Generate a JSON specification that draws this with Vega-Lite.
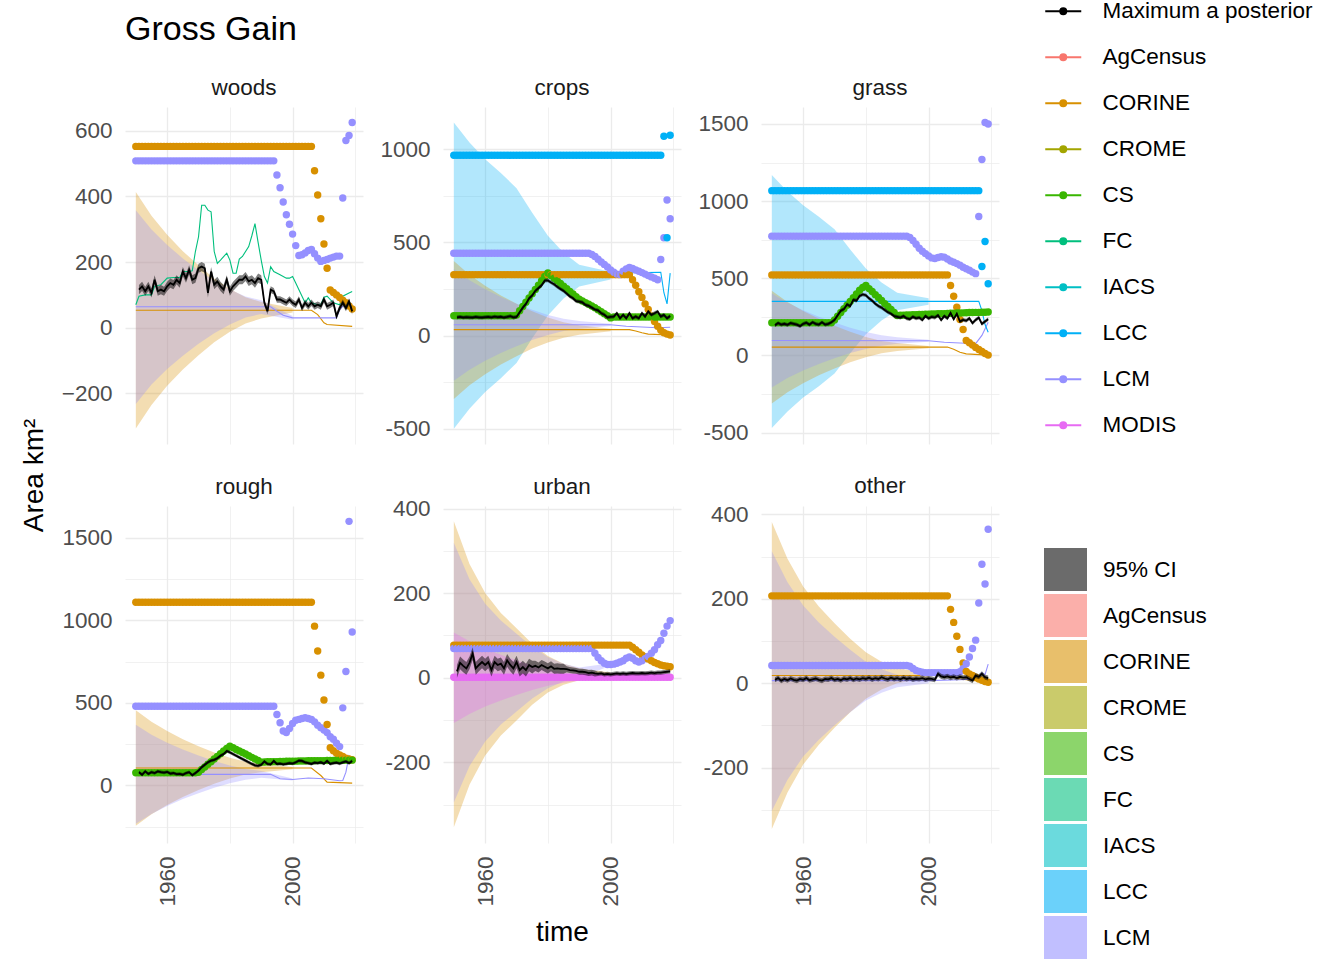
{
"$schema":"https://vega.github.io/schema/vega-lite/v6.json",
"padding":{"left":20,"top":0,"right":0,"bottom":0},
"background":"white",
"title":{"text":"Gross Gain","anchor":"start","frame":"group","offset":0,"dy":74,"baseline":"alphabetic","fontSize":34,"fontWeight":"normal","color":"black","font":"Liberation Sans"},
"config":{
"view":{"stroke":null},
"font":"Liberation Sans",
"title":{"fontSize":22.5,"fontWeight":"normal","color":"#1A1A1A","offset":8,"baseline":"alphabetic","frame":"group","font":"Liberation Sans"},
"axis":{"labelFontSize":22.5,"labelColor":"#4D4D4D","labelFont":"Liberation Sans","domain":false,"ticks":false,"tickSize":0,"labelPadding":13,"gridColor":"#EBEBEB","labelOverlap":false,"labelFlush":false,"labelBound":false,"titleFontSize":28,"titleFontWeight":"normal","titleColor":"black","titleFont":"Liberation Sans"}
},
"datasets":{
"b":[
{"p":"woods","s":"CORINE","t":1950,"l":-307,"h":413},{"p":"woods","s":"CORINE","t":1955,"l":-235,"h":341},{"p":"woods","s":"CORINE","t":1960,"l":-177,"h":283},{"p":"woods","s":"CORINE","t":1965,"l":-127,"h":233},{"p":"woods","s":"CORINE","t":1970,"l":-84,"h":190},{"p":"woods","s":"CORINE","t":1975,"l":-44,"h":150},{"p":"woods","s":"CORINE","t":1980,"l":-12,"h":118},{"p":"woods","s":"CORINE","t":1985,"l":13,"h":93},{"p":"woods","s":"CORINE","t":1990,"l":28,"h":78},{"p":"woods","s":"CORINE","t":2000,"l":46,"h":60},
{"p":"woods","s":"LCM","t":1950,"l":-232,"h":358},{"p":"woods","s":"LCM","t":1955,"l":-173,"h":299},{"p":"woods","s":"LCM","t":1960,"l":-126,"h":252},{"p":"woods","s":"LCM","t":1965,"l":-85,"h":211},{"p":"woods","s":"LCM","t":1970,"l":-49,"h":175},{"p":"woods","s":"LCM","t":1975,"l":-17,"h":143},{"p":"woods","s":"LCM","t":1980,"l":10,"h":116},{"p":"woods","s":"LCM","t":1985,"l":31,"h":95},{"p":"woods","s":"LCM","t":1990,"l":42,"h":84},{"p":"woods","s":"LCM","t":2000,"l":24,"h":36},
{"p":"crops","s":"LCC","t":1950,"l":-500,"h":1144},{"p":"crops","s":"LCC","t":1955,"l":-393,"h":1037},{"p":"crops","s":"LCC","t":1960,"l":-303,"h":947},{"p":"crops","s":"LCC","t":1965,"l":-229,"h":873},{"p":"crops","s":"LCC","t":1970,"l":-147,"h":791},{"p":"crops","s":"LCC","t":1975,"l":-15,"h":659},{"p":"crops","s":"LCC","t":1980,"l":108,"h":536},{"p":"crops","s":"LCC","t":1985,"l":199,"h":445},{"p":"crops","s":"LCC","t":1990,"l":264,"h":380},{"p":"crops","s":"LCC","t":2000,"l":301,"h":343},
{"p":"crops","s":"CORINE","t":1950,"l":-340,"h":400},{"p":"crops","s":"CORINE","t":1955,"l":-266,"h":326},{"p":"crops","s":"CORINE","t":1960,"l":-207,"h":267},{"p":"crops","s":"CORINE","t":1965,"l":-155,"h":215},{"p":"crops","s":"CORINE","t":1970,"l":-111,"h":171},{"p":"crops","s":"CORINE","t":1975,"l":-70,"h":130},{"p":"crops","s":"CORINE","t":1980,"l":-37,"h":97},{"p":"crops","s":"CORINE","t":1985,"l":-11,"h":71},{"p":"crops","s":"CORINE","t":1990,"l":4,"h":56},{"p":"crops","s":"CORINE","t":2000,"l":23,"h":37},
{"p":"crops","s":"LCM","t":1950,"l":-243,"h":357},{"p":"crops","s":"LCM","t":1955,"l":-183,"h":297},{"p":"crops","s":"LCM","t":1960,"l":-135,"h":249},{"p":"crops","s":"LCM","t":1965,"l":-93,"h":207},{"p":"crops","s":"LCM","t":1970,"l":-57,"h":171},{"p":"crops","s":"LCM","t":1975,"l":-24,"h":138},{"p":"crops","s":"LCM","t":1980,"l":3,"h":111},{"p":"crops","s":"LCM","t":1985,"l":24,"h":90},{"p":"crops","s":"LCM","t":1990,"l":36,"h":78},{"p":"crops","s":"LCM","t":2000,"l":51,"h":63},
{"p":"grass","s":"LCC","t":1950,"l":-470,"h":1170},{"p":"grass","s":"LCC","t":1955,"l":-363,"h":1063},{"p":"grass","s":"LCC","t":1960,"l":-273,"h":973},{"p":"grass","s":"LCC","t":1965,"l":-199,"h":899},{"p":"grass","s":"LCC","t":1970,"l":-117,"h":817},{"p":"grass","s":"LCC","t":1975,"l":14,"h":686},{"p":"grass","s":"LCC","t":1980,"l":137,"h":563},{"p":"grass","s":"LCC","t":1985,"l":227,"h":473},{"p":"grass","s":"LCC","t":1990,"l":293,"h":407},{"p":"grass","s":"LCC","t":2000,"l":329,"h":371},
{"p":"grass","s":"CORINE","t":1950,"l":-311,"h":419},{"p":"grass","s":"CORINE","t":1955,"l":-238,"h":346},{"p":"grass","s":"CORINE","t":1960,"l":-180,"h":288},{"p":"grass","s":"CORINE","t":1965,"l":-129,"h":237},{"p":"grass","s":"CORINE","t":1970,"l":-85,"h":193},{"p":"grass","s":"CORINE","t":1975,"l":-45,"h":153},{"p":"grass","s":"CORINE","t":1980,"l":-12,"h":120},{"p":"grass","s":"CORINE","t":1985,"l":14,"h":94},{"p":"grass","s":"CORINE","t":1990,"l":28,"h":80},{"p":"grass","s":"CORINE","t":2000,"l":47,"h":61},
{"p":"grass","s":"LCM","t":1950,"l":-208,"h":402},{"p":"grass","s":"LCM","t":1955,"l":-147,"h":341},{"p":"grass","s":"LCM","t":1960,"l":-98,"h":292},{"p":"grass","s":"LCM","t":1965,"l":-56,"h":250},{"p":"grass","s":"LCM","t":1970,"l":-19,"h":213},{"p":"grass","s":"LCM","t":1975,"l":15,"h":179},{"p":"grass","s":"LCM","t":1980,"l":42,"h":152},{"p":"grass","s":"LCM","t":1985,"l":63,"h":131},{"p":"grass","s":"LCM","t":1990,"l":76,"h":118},{"p":"grass","s":"LCM","t":2000,"l":89,"h":101},
{"p":"rough","s":"CORINE","t":1950,"l":-245,"h":455},{"p":"rough","s":"CORINE","t":1955,"l":-175,"h":385},{"p":"rough","s":"CORINE","t":1960,"l":-119,"h":329},{"p":"rough","s":"CORINE","t":1965,"l":-70,"h":280},{"p":"rough","s":"CORINE","t":1970,"l":-28,"h":238},{"p":"rough","s":"CORINE","t":1975,"l":10,"h":200},{"p":"rough","s":"CORINE","t":1980,"l":42,"h":168},{"p":"rough","s":"CORINE","t":1985,"l":66,"h":144},{"p":"rough","s":"CORINE","t":1990,"l":80,"h":130},{"p":"rough","s":"CORINE","t":2000,"l":98,"h":112},
{"p":"rough","s":"LCM","t":1950,"l":-233,"h":367},{"p":"rough","s":"LCM","t":1955,"l":-173,"h":307},{"p":"rough","s":"LCM","t":1960,"l":-125,"h":259},{"p":"rough","s":"LCM","t":1965,"l":-83,"h":217},{"p":"rough","s":"LCM","t":1970,"l":-47,"h":181},{"p":"rough","s":"LCM","t":1975,"l":-14,"h":148},{"p":"rough","s":"LCM","t":1980,"l":13,"h":121},{"p":"rough","s":"LCM","t":1985,"l":34,"h":100},{"p":"rough","s":"LCM","t":1990,"l":46,"h":88},{"p":"rough","s":"LCM","t":2000,"l":30,"h":42},
{"p":"urban","s":"CORINE","t":1950,"l":-354,"h":370},{"p":"urban","s":"CORINE","t":1955,"l":-253,"h":269},{"p":"urban","s":"CORINE","t":1960,"l":-184,"h":200},{"p":"urban","s":"CORINE","t":1965,"l":-137,"h":153},{"p":"urban","s":"CORINE","t":1970,"l":-101,"h":117},{"p":"urban","s":"CORINE","t":1975,"l":-64,"h":80},{"p":"urban","s":"CORINE","t":1980,"l":-35,"h":51},{"p":"urban","s":"CORINE","t":1985,"l":-17,"h":33},{"p":"urban","s":"CORINE","t":1990,"l":-6,"h":22},{"p":"urban","s":"CORINE","t":2000,"l":4,"h":12},
{"p":"urban","s":"LCM","t":1950,"l":-295,"h":319},{"p":"urban","s":"LCM","t":1955,"l":-209,"h":233},{"p":"urban","s":"LCM","t":1960,"l":-151,"h":175},{"p":"urban","s":"LCM","t":1965,"l":-111,"h":135},{"p":"urban","s":"LCM","t":1970,"l":-80,"h":104},{"p":"urban","s":"LCM","t":1975,"l":-49,"h":73},{"p":"urban","s":"LCM","t":1980,"l":-25,"h":49},{"p":"urban","s":"LCM","t":1985,"l":-9,"h":33},{"p":"urban","s":"LCM","t":1990,"l":0,"h":24},{"p":"urban","s":"LCM","t":2000,"l":28,"h":34},
{"p":"urban","s":"MODIS","t":1950,"l":-107,"h":107},{"p":"urban","s":"MODIS","t":1955,"l":-86,"h":86},{"p":"urban","s":"MODIS","t":1960,"l":-68,"h":68},{"p":"urban","s":"MODIS","t":1965,"l":-54,"h":54},{"p":"urban","s":"MODIS","t":1970,"l":-41,"h":41},{"p":"urban","s":"MODIS","t":1975,"l":-29,"h":29},{"p":"urban","s":"MODIS","t":1980,"l":-19,"h":19},{"p":"urban","s":"MODIS","t":1985,"l":-12,"h":12},{"p":"urban","s":"MODIS","t":1990,"l":-7,"h":7},{"p":"urban","s":"MODIS","t":2000,"l":-2,"h":2},
{"p":"other","s":"CORINE","t":1950,"l":-346,"h":382},{"p":"other","s":"CORINE","t":1955,"l":-259,"h":295},{"p":"other","s":"CORINE","t":1960,"l":-193,"h":229},{"p":"other","s":"CORINE","t":1965,"l":-146,"h":182},{"p":"other","s":"CORINE","t":1970,"l":-106,"h":142},{"p":"other","s":"CORINE","t":1975,"l":-69,"h":105},{"p":"other","s":"CORINE","t":1980,"l":-37,"h":73},{"p":"other","s":"CORINE","t":1985,"l":-15,"h":51},{"p":"other","s":"CORINE","t":1990,"l":0,"h":36},{"p":"other","s":"CORINE","t":2000,"l":13,"h":23},
{"p":"other","s":"LCM","t":1950,"l":-303,"h":313},{"p":"other","s":"LCM","t":1955,"l":-229,"h":239},{"p":"other","s":"LCM","t":1960,"l":-174,"h":184},{"p":"other","s":"LCM","t":1965,"l":-134,"h":144},{"p":"other","s":"LCM","t":1970,"l":-100,"h":110},{"p":"other","s":"LCM","t":1975,"l":-69,"h":79},{"p":"other","s":"LCM","t":1980,"l":-41,"h":51},{"p":"other","s":"LCM","t":1985,"l":-23,"h":33},{"p":"other","s":"LCM","t":1990,"l":-10,"h":20},{"p":"other","s":"LCM","t":2000,"l":0,"h":10}
],
"ln":[
{"p":"woods","s":"CORINE","t":1950,"v":53},{"p":"woods","s":"CORINE","t":2006,"v":53},{"p":"woods","s":"CORINE","t":2008,"v":40},{"p":"woods","s":"CORINE","t":2010,"v":15},{"p":"woods","s":"CORINE","t":2011,"v":10},{"p":"woods","s":"CORINE","t":2019,"v":4},
{"p":"woods","s":"LCM","t":1950,"v":64},{"p":"woods","s":"LCM","t":1993,"v":64},{"p":"woods","s":"LCM","t":1995,"v":50},{"p":"woods","s":"LCM","t":1997,"v":38},{"p":"woods","s":"LCM","t":2000,"v":30},{"p":"woods","s":"LCM","t":2014,"v":30},{"p":"woods","s":"LCM","t":2015,"v":55},{"p":"woods","s":"LCM","t":2016,"v":65},{"p":"woods","s":"LCM","t":2017,"v":75},{"p":"woods","s":"LCM","t":2019,"v":72},
{"p":"woods","s":"FC","t":1950,"v":70},{"p":"woods","s":"FC","t":1951,"v":96},{"p":"woods","s":"FC","t":1953,"v":100},{"p":"woods","s":"FC","t":1955,"v":100},{"p":"woods","s":"FC","t":1956,"v":126},{"p":"woods","s":"FC","t":1958,"v":131},{"p":"woods","s":"FC","t":1960,"v":151},{"p":"woods","s":"FC","t":1962,"v":153},{"p":"woods","s":"FC","t":1964,"v":153},{"p":"woods","s":"FC","t":1965,"v":171},{"p":"woods","s":"FC","t":1967,"v":171},{"p":"woods","s":"FC","t":1968,"v":173},{"p":"woods","s":"FC","t":1969,"v":232},{"p":"woods","s":"FC","t":1970,"v":277},{"p":"woods","s":"FC","t":1971,"v":373},{"p":"woods","s":"FC","t":1972,"v":373},{"p":"woods","s":"FC","t":1973,"v":358},{"p":"woods","s":"FC","t":1974,"v":353},{"p":"woods","s":"FC","t":1975,"v":232},{"p":"woods","s":"FC","t":1976,"v":196},{"p":"woods","s":"FC","t":1977,"v":206},{"p":"woods","s":"FC","t":1979,"v":227},{"p":"woods","s":"FC","t":1980,"v":206},{"p":"woods","s":"FC","t":1981,"v":166},{"p":"woods","s":"FC","t":1982,"v":166},{"p":"woods","s":"FC","t":1983,"v":209},{"p":"woods","s":"FC","t":1984,"v":217},{"p":"woods","s":"FC","t":1986,"v":247},{"p":"woods","s":"FC","t":1987,"v":280},{"p":"woods","s":"FC","t":1988,"v":317},{"p":"woods","s":"FC","t":1989,"v":260},{"p":"woods","s":"FC","t":1990,"v":205},{"p":"woods","s":"FC","t":1991,"v":156},{"p":"woods","s":"FC","t":1992,"v":136},{"p":"woods","s":"FC","t":1993,"v":186},{"p":"woods","s":"FC","t":1994,"v":171},{"p":"woods","s":"FC","t":1996,"v":161},{"p":"woods","s":"FC","t":1998,"v":151},{"p":"woods","s":"FC","t":1999,"v":151},{"p":"woods","s":"FC","t":2000,"v":156},{"p":"woods","s":"FC","t":2001,"v":136},{"p":"woods","s":"FC","t":2003,"v":96},{"p":"woods","s":"FC","t":2004,"v":76},{"p":"woods","s":"FC","t":2005,"v":91},{"p":"woods","s":"FC","t":2006,"v":76},{"p":"woods","s":"FC","t":2008,"v":70},{"p":"woods","s":"FC","t":2009,"v":70},{"p":"woods","s":"FC","t":2010,"v":93},{"p":"woods","s":"FC","t":2011,"v":96},{"p":"woods","s":"FC","t":2013,"v":76},{"p":"woods","s":"FC","t":2015,"v":70},{"p":"woods","s":"FC","t":2016,"v":96},{"p":"woods","s":"FC","t":2018,"v":106},{"p":"woods","s":"FC","t":2019,"v":110},
{"p":"crops","s":"CORINE","t":1950,"v":32},{"p":"crops","s":"CORINE","t":2006,"v":32},{"p":"crops","s":"CORINE","t":2008,"v":25},{"p":"crops","s":"CORINE","t":2010,"v":15},{"p":"crops","s":"CORINE","t":2012,"v":8},{"p":"crops","s":"CORINE","t":2019,"v":3},
{"p":"crops","s":"LCM","t":1950,"v":58},{"p":"crops","s":"LCM","t":2000,"v":58},{"p":"crops","s":"LCM","t":2005,"v":50},{"p":"crops","s":"LCM","t":2015,"v":42},{"p":"crops","s":"LCM","t":2019,"v":45},
{"p":"crops","s":"LCC","t":1950,"v":322},{"p":"crops","s":"LCC","t":2016,"v":340},{"p":"crops","s":"LCC","t":2017,"v":230},{"p":"crops","s":"LCC","t":2018,"v":170},{"p":"crops","s":"LCC","t":2019,"v":335},
{"p":"grass","s":"CORINE","t":1950,"v":54},{"p":"grass","s":"CORINE","t":2006,"v":54},{"p":"grass","s":"CORINE","t":2008,"v":40},{"p":"grass","s":"CORINE","t":2010,"v":20},{"p":"grass","s":"CORINE","t":2012,"v":10},{"p":"grass","s":"CORINE","t":2019,"v":2},
{"p":"grass","s":"LCM","t":1950,"v":97},{"p":"grass","s":"LCM","t":2000,"v":95},{"p":"grass","s":"LCM","t":2005,"v":85},{"p":"grass","s":"LCM","t":2015,"v":76},{"p":"grass","s":"LCM","t":2017,"v":130},{"p":"grass","s":"LCM","t":2019,"v":215},
{"p":"grass","s":"LCC","t":1950,"v":350},{"p":"grass","s":"LCC","t":2016,"v":350},{"p":"grass","s":"LCC","t":2017,"v":290},{"p":"grass","s":"LCC","t":2018,"v":200},{"p":"grass","s":"LCC","t":2019,"v":150},
{"p":"rough","s":"CORINE","t":1950,"v":105},{"p":"rough","s":"CORINE","t":2006,"v":105},{"p":"rough","s":"CORINE","t":2009,"v":60},{"p":"rough","s":"CORINE","t":2011,"v":20},{"p":"rough","s":"CORINE","t":2019,"v":14},
{"p":"rough","s":"LCM","t":1950,"v":67},{"p":"rough","s":"LCM","t":1993,"v":67},{"p":"rough","s":"LCM","t":1996,"v":40},{"p":"rough","s":"LCM","t":2000,"v":36},{"p":"rough","s":"LCM","t":2005,"v":45},{"p":"rough","s":"LCM","t":2010,"v":40},{"p":"rough","s":"LCM","t":2015,"v":28},{"p":"rough","s":"LCM","t":2016,"v":30},{"p":"rough","s":"LCM","t":2017,"v":80},{"p":"rough","s":"LCM","t":2018,"v":180},{"p":"rough","s":"LCM","t":2019,"v":160},
{"p":"other","s":"CORINE","t":1950,"v":18},{"p":"other","s":"CORINE","t":2006,"v":18},{"p":"other","s":"CORINE","t":2010,"v":10},{"p":"other","s":"CORINE","t":2019,"v":2},
{"p":"other","s":"LCM","t":1950,"v":6},{"p":"other","s":"LCM","t":2000,"v":6},{"p":"other","s":"LCM","t":2010,"v":8},{"p":"other","s":"LCM","t":2015,"v":10},{"p":"other","s":"LCM","t":2017,"v":25},{"p":"other","s":"LCM","t":2018,"v":20},{"p":"other","s":"LCM","t":2019,"v":45}
],
"w":[
{"p":"woods","t":1950,"CORINE":552,"LCM":508},
{"p":"woods","t":1951,"CORINE":552,"LCM":508,"m":116,"l":102,"h":130},
{"p":"woods","t":1952,"CORINE":552,"LCM":508,"m":126,"l":112,"h":140},
{"p":"woods","t":1953,"CORINE":552,"LCM":508,"m":111,"l":97,"h":125},
{"p":"woods","t":1954,"CORINE":552,"LCM":508,"m":126,"l":112,"h":140},
{"p":"woods","t":1955,"CORINE":552,"LCM":508,"m":106,"l":92,"h":120},
{"p":"woods","t":1956,"CORINE":552,"LCM":508,"m":146,"l":132,"h":160},
{"p":"woods","t":1957,"CORINE":552,"LCM":508,"m":111,"l":97,"h":125},
{"p":"woods","t":1958,"CORINE":552,"LCM":508,"m":116,"l":102,"h":130},
{"p":"woods","t":1959,"CORINE":552,"LCM":508,"m":111,"l":97,"h":125},
{"p":"woods","t":1960,"CORINE":552,"LCM":508,"m":126,"l":112,"h":140},
{"p":"woods","t":1961,"CORINE":552,"LCM":508,"m":136,"l":122,"h":150},
{"p":"woods","t":1962,"CORINE":552,"LCM":508,"m":131,"l":117,"h":145},
{"p":"woods","t":1963,"CORINE":552,"LCM":508,"m":146,"l":132,"h":160},
{"p":"woods","t":1964,"CORINE":552,"LCM":508,"m":136,"l":122,"h":150},
{"p":"woods","t":1965,"CORINE":552,"LCM":508,"m":171,"l":157,"h":185},
{"p":"woods","t":1966,"CORINE":552,"LCM":508,"m":151,"l":137,"h":165},
{"p":"woods","t":1967,"CORINE":552,"LCM":508,"m":176,"l":162,"h":190},
{"p":"woods","t":1968,"CORINE":552,"LCM":508,"m":146,"l":132,"h":160},
{"p":"woods","t":1969,"CORINE":552,"LCM":508,"m":151,"l":137,"h":165},
{"p":"woods","t":1970,"CORINE":552,"LCM":508,"m":181,"l":167,"h":195},
{"p":"woods","t":1971,"CORINE":552,"LCM":508,"m":186,"l":172,"h":200},
{"p":"woods","t":1972,"CORINE":552,"LCM":508,"m":181,"l":167,"h":195},
{"p":"woods","t":1973,"CORINE":552,"LCM":508,"m":106,"l":92,"h":120},
{"p":"woods","t":1974,"CORINE":552,"LCM":508,"m":171,"l":157,"h":185},
{"p":"woods","t":1975,"CORINE":552,"LCM":508,"m":131,"l":117,"h":145},
{"p":"woods","t":1976,"CORINE":552,"LCM":508,"m":141,"l":127,"h":155},
{"p":"woods","t":1977,"CORINE":552,"LCM":508,"m":126,"l":112,"h":140},
{"p":"woods","t":1978,"CORINE":552,"LCM":508,"m":116,"l":102,"h":130},
{"p":"woods","t":1979,"CORINE":552,"LCM":508,"m":146,"l":132,"h":160},
{"p":"woods","t":1980,"CORINE":552,"LCM":508,"m":111,"l":97,"h":125},
{"p":"woods","t":1981,"CORINE":552,"LCM":508,"m":126,"l":112,"h":140},
{"p":"woods","t":1982,"CORINE":552,"LCM":508,"m":136,"l":122,"h":150},
{"p":"woods","t":1983,"CORINE":552,"LCM":508,"m":146,"l":132,"h":160},
{"p":"woods","t":1984,"CORINE":552,"LCM":508,"m":146,"l":132,"h":160},
{"p":"woods","t":1985,"CORINE":552,"LCM":508,"m":156,"l":142,"h":170},
{"p":"woods","t":1986,"CORINE":552,"LCM":508,"m":141,"l":127,"h":155},
{"p":"woods","t":1987,"CORINE":552,"LCM":508,"m":146,"l":132,"h":160},
{"p":"woods","t":1988,"CORINE":552,"LCM":508,"m":136,"l":122,"h":150},
{"p":"woods","t":1989,"CORINE":552,"LCM":508,"m":151,"l":137,"h":165},
{"p":"woods","t":1990,"CORINE":552,"LCM":508,"m":146,"l":132,"h":160},
{"p":"woods","t":1991,"CORINE":552,"LCM":508,"m":76,"l":66,"h":86},
{"p":"woods","t":1992,"CORINE":552,"LCM":508,"m":50,"l":40,"h":60},
{"p":"woods","t":1993,"CORINE":552,"LCM":508,"m":116,"l":106,"h":126},
{"p":"woods","t":1994,"CORINE":552,"LCM":508,"m":111,"l":101,"h":121},
{"p":"woods","t":1995,"CORINE":552,"LCM":465,"m":86,"l":76,"h":96},
{"p":"woods","t":1996,"CORINE":552,"LCM":426,"m":86,"l":76,"h":96},
{"p":"woods","t":1997,"CORINE":552,"LCM":383,"m":81,"l":71,"h":91},
{"p":"woods","t":1998,"CORINE":552,"LCM":344,"m":76,"l":66,"h":86},
{"p":"woods","t":1999,"CORINE":552,"LCM":315,"m":86,"l":76,"h":96},
{"p":"woods","t":2000,"CORINE":552,"LCM":285,"m":76,"l":66,"h":86},
{"p":"woods","t":2001,"CORINE":552,"LCM":250,"m":70,"l":60,"h":80},
{"p":"woods","t":2002,"CORINE":552,"LCM":220,"m":86,"l":76,"h":96},
{"p":"woods","t":2003,"CORINE":552,"LCM":222,"m":60,"l":50,"h":70},
{"p":"woods","t":2004,"CORINE":552,"LCM":228,"m":76,"l":66,"h":86},
{"p":"woods","t":2005,"CORINE":552,"LCM":235,"m":65,"l":55,"h":75},
{"p":"woods","t":2006,"CORINE":552,"LCM":238,"m":76,"l":66,"h":86},
{"p":"woods","t":2007,"CORINE":478,"LCM":225,"m":65,"l":55,"h":75},
{"p":"woods","t":2008,"CORINE":404,"LCM":212,"m":70,"l":60,"h":80},
{"p":"woods","t":2009,"CORINE":332,"LCM":202,"m":65,"l":55,"h":75},
{"p":"woods","t":2010,"CORINE":255,"LCM":205,"m":86,"l":76,"h":96},
{"p":"woods","t":2011,"CORINE":181,"LCM":208,"m":65,"l":55,"h":75},
{"p":"woods","t":2012,"CORINE":115,"LCM":212,"m":70,"l":60,"h":80},
{"p":"woods","t":2013,"CORINE":107,"LCM":215,"m":76,"l":66,"h":86},
{"p":"woods","t":2014,"CORINE":100,"LCM":218,"m":35,"l":25,"h":45},
{"p":"woods","t":2015,"CORINE":92,"LCM":218,"m":60,"l":50,"h":70},
{"p":"woods","t":2016,"CORINE":84,"LCM":395,"m":76,"l":66,"h":86},
{"p":"woods","t":2017,"CORINE":76,"LCM":570,"m":60,"l":50,"h":70},
{"p":"woods","t":2018,"CORINE":66,"LCM":585,"m":80,"l":70,"h":90},
{"p":"woods","t":2019,"CORINE":57,"LCM":625,"m":50,"l":40,"h":60},
{"p":"crops","t":1950,"LCC":968,"CORINE":327,"LCM":442,"CS":106},
{"p":"crops","t":1951,"LCC":968,"CORINE":327,"LCM":442,"CS":106,"m":98,"l":88,"h":108},
{"p":"crops","t":1952,"LCC":968,"CORINE":327,"LCM":442,"CS":106,"m":100,"l":90,"h":110},
{"p":"crops","t":1953,"LCC":968,"CORINE":327,"LCM":442,"CS":106,"m":97,"l":87,"h":107},
{"p":"crops","t":1954,"LCC":968,"CORINE":327,"LCM":442,"CS":106,"m":99,"l":89,"h":109},
{"p":"crops","t":1955,"LCC":968,"CORINE":327,"LCM":442,"CS":106,"m":98,"l":88,"h":108},
{"p":"crops","t":1956,"LCC":968,"CORINE":327,"LCM":442,"CS":106,"m":97,"l":87,"h":107},
{"p":"crops","t":1957,"LCC":968,"CORINE":327,"LCM":442,"CS":106,"m":100,"l":90,"h":110},
{"p":"crops","t":1958,"LCC":968,"CORINE":327,"LCM":442,"CS":106,"m":98,"l":88,"h":108},
{"p":"crops","t":1959,"LCC":968,"CORINE":327,"LCM":442,"CS":106,"m":97,"l":87,"h":107},
{"p":"crops","t":1960,"LCC":968,"CORINE":327,"LCM":442,"CS":106,"m":99,"l":89,"h":109},
{"p":"crops","t":1961,"LCC":968,"CORINE":327,"LCM":442,"CS":106,"m":100,"l":90,"h":110},
{"p":"crops","t":1962,"LCC":968,"CORINE":327,"LCM":442,"CS":106,"m":98,"l":88,"h":108},
{"p":"crops","t":1963,"LCC":968,"CORINE":327,"LCM":442,"CS":106,"m":102,"l":92,"h":112},
{"p":"crops","t":1964,"LCC":968,"CORINE":327,"LCM":442,"CS":106,"m":99,"l":89,"h":109},
{"p":"crops","t":1965,"LCC":968,"CORINE":327,"LCM":442,"CS":106,"m":101,"l":91,"h":111},
{"p":"crops","t":1966,"LCC":968,"CORINE":327,"LCM":442,"CS":106,"m":97,"l":87,"h":107},
{"p":"crops","t":1967,"LCC":968,"CORINE":327,"LCM":442,"CS":106,"m":100,"l":90,"h":110},
{"p":"crops","t":1968,"LCC":968,"CORINE":327,"LCM":442,"CS":106,"m":104,"l":94,"h":114},
{"p":"crops","t":1969,"LCC":968,"CORINE":327,"LCM":442,"CS":106,"m":98,"l":88,"h":108},
{"p":"crops","t":1970,"LCC":968,"CORINE":327,"LCM":442,"CS":110,"m":100,"l":90,"h":110},
{"p":"crops","t":1971,"LCC":968,"CORINE":327,"LCM":442,"CS":133,"m":125,"l":115,"h":135},
{"p":"crops","t":1972,"LCC":968,"CORINE":327,"LCM":442,"CS":156,"m":150,"l":140,"h":160},
{"p":"crops","t":1973,"LCC":968,"CORINE":327,"LCM":442,"CS":179,"m":170,"l":160,"h":180},
{"p":"crops","t":1974,"LCC":968,"CORINE":327,"LCM":442,"CS":202,"m":200,"l":190,"h":210},
{"p":"crops","t":1975,"LCC":968,"CORINE":327,"LCM":442,"CS":225,"m":215,"l":205,"h":225},
{"p":"crops","t":1976,"LCC":968,"CORINE":327,"LCM":442,"CS":248,"m":240,"l":230,"h":250},
{"p":"crops","t":1977,"LCC":968,"CORINE":327,"LCM":442,"CS":271,"m":255,"l":245,"h":265},
{"p":"crops","t":1978,"LCC":968,"CORINE":327,"LCM":442,"CS":294,"m":270,"l":260,"h":280},
{"p":"crops","t":1979,"LCC":968,"CORINE":327,"LCM":442,"CS":317,"m":295,"l":285,"h":305},
{"p":"crops","t":1980,"LCC":968,"CORINE":327,"LCM":442,"CS":336,"m":296,"l":286,"h":306},
{"p":"crops","t":1981,"LCC":968,"CORINE":327,"LCM":442,"CS":322,"m":285,"l":275,"h":295},
{"p":"crops","t":1982,"LCC":968,"CORINE":327,"LCM":442,"CS":308,"m":275,"l":265,"h":285},
{"p":"crops","t":1983,"LCC":968,"CORINE":327,"LCM":442,"CS":294,"m":262,"l":252,"h":272},
{"p":"crops","t":1984,"LCC":968,"CORINE":327,"LCM":442,"CS":280,"m":250,"l":240,"h":260},
{"p":"crops","t":1985,"LCC":968,"CORINE":327,"LCM":442,"CS":265,"m":240,"l":230,"h":250},
{"p":"crops","t":1986,"LCC":968,"CORINE":327,"LCM":442,"CS":251,"m":225,"l":215,"h":235},
{"p":"crops","t":1987,"LCC":968,"CORINE":327,"LCM":442,"CS":237,"m":210,"l":200,"h":220},
{"p":"crops","t":1988,"LCC":968,"CORINE":327,"LCM":442,"CS":223,"m":200,"l":190,"h":210},
{"p":"crops","t":1989,"LCC":968,"CORINE":327,"LCM":442,"CS":209,"m":185,"l":175,"h":195},
{"p":"crops","t":1990,"LCC":968,"CORINE":327,"LCM":442,"CS":195,"m":182,"l":172,"h":192},
{"p":"crops","t":1991,"LCC":968,"CORINE":327,"LCM":442,"CS":186,"m":178,"l":168,"h":188},
{"p":"crops","t":1992,"LCC":968,"CORINE":327,"LCM":442,"CS":177,"m":165,"l":155,"h":175},
{"p":"crops","t":1993,"LCC":968,"CORINE":327,"LCM":442,"CS":168,"m":160,"l":150,"h":170},
{"p":"crops","t":1994,"LCC":968,"CORINE":327,"LCM":435,"CS":159,"m":150,"l":140,"h":160},
{"p":"crops","t":1995,"LCC":968,"CORINE":327,"LCM":425,"CS":150,"m":140,"l":130,"h":150},
{"p":"crops","t":1996,"LCC":968,"CORINE":327,"LCM":410,"CS":139,"m":135,"l":125,"h":145},
{"p":"crops","t":1997,"LCC":968,"CORINE":327,"LCM":395,"CS":128,"m":120,"l":110,"h":130},
{"p":"crops","t":1998,"LCC":968,"CORINE":327,"LCM":382,"CS":117,"m":112,"l":102,"h":122},
{"p":"crops","t":1999,"LCC":968,"CORINE":327,"LCM":368,"CS":106,"m":98,"l":88,"h":108},
{"p":"crops","t":2000,"LCC":968,"CORINE":327,"LCM":352,"CS":95,"m":100,"l":90,"h":110},
{"p":"crops","t":2001,"LCC":968,"CORINE":327,"LCM":340,"CS":100,"m":102,"l":92,"h":112},
{"p":"crops","t":2002,"LCC":968,"CORINE":327,"LCM":330,"CS":100,"m":120,"l":110,"h":130},
{"p":"crops","t":2003,"LCC":968,"CORINE":327,"LCM":328,"CS":100,"m":93,"l":83,"h":103},
{"p":"crops","t":2004,"LCC":968,"CORINE":327,"LCM":345,"CS":100,"m":111,"l":101,"h":121},
{"p":"crops","t":2005,"LCC":968,"CORINE":327,"LCM":358,"CS":100,"m":93,"l":83,"h":103},
{"p":"crops","t":2006,"LCC":968,"CORINE":327,"LCM":365,"CS":100,"m":120,"l":110,"h":130},
{"p":"crops","t":2007,"LCC":968,"CORINE":300,"LCM":360,"CS":100,"m":93,"l":83,"h":103},
{"p":"crops","t":2008,"LCC":968,"CORINE":270,"LCM":352,"CS":100,"m":102,"l":92,"h":112},
{"p":"crops","t":2009,"LCC":968,"CORINE":235,"LCM":345,"CS":100,"m":93,"l":83,"h":103},
{"p":"crops","t":2010,"LCC":968,"CORINE":205,"LCM":338,"CS":100,"m":120,"l":110,"h":130},
{"p":"crops","t":2011,"LCC":968,"CORINE":170,"LCM":330,"CS":100,"m":102,"l":92,"h":112},
{"p":"crops","t":2012,"LCC":968,"CORINE":140,"LCM":322,"CS":100,"m":129,"l":119,"h":139},
{"p":"crops","t":2013,"LCC":968,"CORINE":105,"LCM":315,"CS":100,"m":111,"l":101,"h":121},
{"p":"crops","t":2014,"LCC":968,"CORINE":75,"LCM":308,"CS":100,"m":120,"l":110,"h":130},
{"p":"crops","t":2015,"LCC":968,"CORINE":50,"LCM":300,"CS":100,"m":129,"l":119,"h":139},
{"p":"crops","t":2016,"LCC":968,"CORINE":28,"LCM":408,"CS":100,"m":102,"l":92,"h":112},
{"p":"crops","t":2017,"LCC":1070,"CORINE":15,"LCM":525,"CS":100,"m":111,"l":101,"h":121},
{"p":"crops","t":2018,"LCC":525,"CORINE":8,"LCM":728,"CS":100,"m":93,"l":83,"h":103},
{"p":"crops","t":2019,"LCC":1075,"CORINE":3,"LCM":627,"CS":100,"m":105,"l":95,"h":115},
{"p":"grass","t":1950,"LCC":1068,"CORINE":522,"LCM":773,"CS":212},
{"p":"grass","t":1951,"LCC":1068,"CORINE":522,"LCM":773,"CS":212,"m":195,"l":183,"h":207},
{"p":"grass","t":1952,"LCC":1068,"CORINE":522,"LCM":773,"CS":212,"m":210,"l":198,"h":222},
{"p":"grass","t":1953,"LCC":1068,"CORINE":522,"LCM":773,"CS":212,"m":200,"l":188,"h":212},
{"p":"grass","t":1954,"LCC":1068,"CORINE":522,"LCM":773,"CS":212,"m":205,"l":193,"h":217},
{"p":"grass","t":1955,"LCC":1068,"CORINE":522,"LCM":773,"CS":212,"m":198,"l":186,"h":210},
{"p":"grass","t":1956,"LCC":1068,"CORINE":522,"LCM":773,"CS":212,"m":210,"l":198,"h":222},
{"p":"grass","t":1957,"LCC":1068,"CORINE":522,"LCM":773,"CS":212,"m":205,"l":193,"h":217},
{"p":"grass","t":1958,"LCC":1068,"CORINE":522,"LCM":773,"CS":212,"m":200,"l":188,"h":212},
{"p":"grass","t":1959,"LCC":1068,"CORINE":522,"LCM":773,"CS":212,"m":190,"l":178,"h":202},
{"p":"grass","t":1960,"LCC":1068,"CORINE":522,"LCM":773,"CS":212,"m":205,"l":193,"h":217},
{"p":"grass","t":1961,"LCC":1068,"CORINE":522,"LCM":773,"CS":212,"m":212,"l":200,"h":224},
{"p":"grass","t":1962,"LCC":1068,"CORINE":522,"LCM":773,"CS":212,"m":200,"l":188,"h":212},
{"p":"grass","t":1963,"LCC":1068,"CORINE":522,"LCM":773,"CS":212,"m":215,"l":203,"h":227},
{"p":"grass","t":1964,"LCC":1068,"CORINE":522,"LCM":773,"CS":212,"m":205,"l":193,"h":217},
{"p":"grass","t":1965,"LCC":1068,"CORINE":522,"LCM":773,"CS":212,"m":200,"l":188,"h":212},
{"p":"grass","t":1966,"LCC":1068,"CORINE":522,"LCM":773,"CS":212,"m":215,"l":203,"h":227},
{"p":"grass","t":1967,"LCC":1068,"CORINE":522,"LCM":773,"CS":212,"m":200,"l":188,"h":212},
{"p":"grass","t":1968,"LCC":1068,"CORINE":522,"LCM":773,"CS":212,"m":205,"l":193,"h":217},
{"p":"grass","t":1969,"LCC":1068,"CORINE":522,"LCM":773,"CS":212,"m":215,"l":203,"h":227},
{"p":"grass","t":1970,"LCC":1068,"CORINE":522,"LCM":773,"CS":230,"m":230,"l":218,"h":242},
{"p":"grass","t":1971,"LCC":1068,"CORINE":522,"LCM":773,"CS":254,"m":260,"l":248,"h":272},
{"p":"grass","t":1972,"LCC":1068,"CORINE":522,"LCM":773,"CS":278,"m":290,"l":278,"h":302},
{"p":"grass","t":1973,"LCC":1068,"CORINE":522,"LCM":773,"CS":302,"m":300,"l":288,"h":312},
{"p":"grass","t":1974,"LCC":1068,"CORINE":522,"LCM":773,"CS":326,"m":330,"l":318,"h":342},
{"p":"grass","t":1975,"LCC":1068,"CORINE":522,"LCM":773,"CS":350,"m":320,"l":308,"h":332},
{"p":"grass","t":1976,"LCC":1068,"CORINE":522,"LCM":773,"CS":374,"m":360,"l":348,"h":372},
{"p":"grass","t":1977,"LCC":1068,"CORINE":522,"LCM":773,"CS":398,"m":355,"l":343,"h":367},
{"p":"grass","t":1978,"LCC":1068,"CORINE":522,"LCM":773,"CS":422,"m":385,"l":373,"h":397},
{"p":"grass","t":1979,"LCC":1068,"CORINE":522,"LCM":773,"CS":440,"m":395,"l":383,"h":407},
{"p":"grass","t":1980,"LCC":1068,"CORINE":522,"LCM":773,"CS":453,"m":390,"l":378,"h":402},
{"p":"grass","t":1981,"LCC":1068,"CORINE":522,"LCM":773,"CS":433,"m":370,"l":358,"h":382},
{"p":"grass","t":1982,"LCC":1068,"CORINE":522,"LCM":773,"CS":414,"m":355,"l":343,"h":367},
{"p":"grass","t":1983,"LCC":1068,"CORINE":522,"LCM":773,"CS":394,"m":335,"l":323,"h":347},
{"p":"grass","t":1984,"LCC":1068,"CORINE":522,"LCM":773,"CS":375,"m":320,"l":308,"h":332},
{"p":"grass","t":1985,"LCC":1068,"CORINE":522,"LCM":773,"CS":356,"m":310,"l":298,"h":322},
{"p":"grass","t":1986,"LCC":1068,"CORINE":522,"LCM":773,"CS":336,"m":295,"l":283,"h":307},
{"p":"grass","t":1987,"LCC":1068,"CORINE":522,"LCM":773,"CS":317,"m":280,"l":268,"h":292},
{"p":"grass","t":1988,"LCC":1068,"CORINE":522,"LCM":773,"CS":298,"m":270,"l":258,"h":282},
{"p":"grass","t":1989,"LCC":1068,"CORINE":522,"LCM":773,"CS":278,"m":255,"l":243,"h":267},
{"p":"grass","t":1990,"LCC":1068,"CORINE":522,"LCM":773,"CS":259,"m":250,"l":238,"h":262},
{"p":"grass","t":1991,"LCC":1068,"CORINE":522,"LCM":773,"CS":260,"m":245,"l":233,"h":257},
{"p":"grass","t":1992,"LCC":1068,"CORINE":522,"LCM":773,"CS":261,"m":255,"l":243,"h":267},
{"p":"grass","t":1993,"LCC":1068,"CORINE":522,"LCM":773,"CS":262,"m":240,"l":228,"h":252},
{"p":"grass","t":1994,"LCC":1068,"CORINE":522,"LCM":765,"CS":263,"m":235,"l":223,"h":247},
{"p":"grass","t":1995,"LCC":1068,"CORINE":522,"LCM":745,"CS":264,"m":250,"l":238,"h":262},
{"p":"grass","t":1996,"LCC":1068,"CORINE":522,"LCM":720,"CS":264,"m":240,"l":228,"h":252},
{"p":"grass","t":1997,"LCC":1068,"CORINE":522,"LCM":695,"CS":265,"m":245,"l":233,"h":257},
{"p":"grass","t":1998,"LCC":1068,"CORINE":522,"LCM":675,"CS":266,"m":230,"l":218,"h":242},
{"p":"grass","t":1999,"LCC":1068,"CORINE":522,"LCM":660,"CS":267,"m":255,"l":243,"h":267},
{"p":"grass","t":2000,"LCC":1068,"CORINE":522,"LCM":645,"CS":267,"m":240,"l":228,"h":252},
{"p":"grass","t":2001,"LCC":1068,"CORINE":522,"LCM":632,"CS":268,"m":250,"l":238,"h":262},
{"p":"grass","t":2002,"LCC":1068,"CORINE":522,"LCM":628,"CS":269,"m":245,"l":233,"h":257},
{"p":"grass","t":2003,"LCC":1068,"CORINE":522,"LCM":635,"CS":270,"m":260,"l":248,"h":272},
{"p":"grass","t":2004,"LCC":1068,"CORINE":522,"LCM":640,"CS":271,"m":230,"l":218,"h":242},
{"p":"grass","t":2005,"LCC":1068,"CORINE":522,"LCM":637,"CS":271,"m":255,"l":243,"h":267},
{"p":"grass","t":2006,"LCC":1068,"CORINE":522,"LCM":625,"CS":272,"m":240,"l":228,"h":252},
{"p":"grass","t":2007,"LCC":1068,"CORINE":453,"LCM":612,"CS":273,"m":275,"l":263,"h":287},
{"p":"grass","t":2008,"LCC":1068,"CORINE":384,"LCM":604,"CS":274,"m":235,"l":223,"h":247},
{"p":"grass","t":2009,"LCC":1068,"CORINE":313,"LCM":595,"CS":275,"m":270,"l":258,"h":282},
{"p":"grass","t":2010,"LCC":1068,"CORINE":233,"LCM":585,"CS":275,"m":220,"l":208,"h":232},
{"p":"grass","t":2011,"LCC":1068,"CORINE":168,"LCM":572,"CS":276,"m":230,"l":218,"h":242},
{"p":"grass","t":2012,"LCC":1068,"CORINE":97,"LCM":562,"CS":277,"m":225,"l":213,"h":237},
{"p":"grass","t":2013,"LCC":1068,"CORINE":82,"LCM":552,"CS":278,"m":240,"l":228,"h":252},
{"p":"grass","t":2014,"LCC":1068,"CORINE":67,"LCM":540,"CS":278,"m":210,"l":198,"h":222},
{"p":"grass","t":2015,"LCC":1068,"CORINE":52,"LCM":530,"CS":279,"m":230,"l":218,"h":242},
{"p":"grass","t":2016,"LCC":1068,"CORINE":38,"LCM":900,"CS":279,"m":245,"l":233,"h":257},
{"p":"grass","t":2017,"LCC":576,"CORINE":25,"LCM":1270,"CS":280,"m":205,"l":193,"h":217},
{"p":"grass","t":2018,"LCC":738,"CORINE":12,"LCM":1510,"CS":280,"m":220,"l":208,"h":232},
{"p":"grass","t":2019,"LCC":464,"CORINE":2,"LCM":1500,"CS":281,"m":235,"l":223,"h":247},
{"p":"rough","t":1950,"CORINE":1110,"LCM":480,"CS":77},
{"p":"rough","t":1951,"CORINE":1110,"LCM":480,"CS":77,"m":80,"l":70,"h":90},
{"p":"rough","t":1952,"CORINE":1110,"LCM":480,"CS":77,"m":65,"l":55,"h":75},
{"p":"rough","t":1953,"CORINE":1110,"LCM":480,"CS":77,"m":85,"l":75,"h":95},
{"p":"rough","t":1954,"CORINE":1110,"LCM":480,"CS":77,"m":70,"l":60,"h":80},
{"p":"rough","t":1955,"CORINE":1110,"LCM":480,"CS":77,"m":80,"l":70,"h":90},
{"p":"rough","t":1956,"CORINE":1110,"LCM":480,"CS":77,"m":75,"l":65,"h":85},
{"p":"rough","t":1957,"CORINE":1110,"LCM":480,"CS":77,"m":85,"l":75,"h":95},
{"p":"rough","t":1958,"CORINE":1110,"LCM":480,"CS":77,"m":80,"l":70,"h":90},
{"p":"rough","t":1959,"CORINE":1110,"LCM":480,"CS":77,"m":78,"l":68,"h":88},
{"p":"rough","t":1960,"CORINE":1110,"LCM":480,"CS":77,"m":82,"l":72,"h":92},
{"p":"rough","t":1961,"CORINE":1110,"LCM":480,"CS":77,"m":72,"l":62,"h":82},
{"p":"rough","t":1962,"CORINE":1110,"LCM":480,"CS":77,"m":75,"l":65,"h":85},
{"p":"rough","t":1963,"CORINE":1110,"LCM":480,"CS":77,"m":68,"l":58,"h":78},
{"p":"rough","t":1964,"CORINE":1110,"LCM":480,"CS":77,"m":70,"l":60,"h":80},
{"p":"rough","t":1965,"CORINE":1110,"LCM":480,"CS":77,"m":65,"l":55,"h":75},
{"p":"rough","t":1966,"CORINE":1110,"LCM":480,"CS":77,"m":75,"l":65,"h":85},
{"p":"rough","t":1967,"CORINE":1110,"LCM":480,"CS":77,"m":80,"l":70,"h":90},
{"p":"rough","t":1968,"CORINE":1110,"LCM":480,"CS":77,"m":62,"l":52,"h":72},
{"p":"rough","t":1969,"CORINE":1110,"LCM":480,"CS":77,"m":75,"l":65,"h":85},
{"p":"rough","t":1970,"CORINE":1110,"LCM":480,"CS":80,"m":90,"l":80,"h":100},
{"p":"rough","t":1971,"CORINE":1110,"LCM":480,"CS":96,"m":110,"l":100,"h":120},
{"p":"rough","t":1972,"CORINE":1110,"LCM":480,"CS":112,"m":125,"l":115,"h":135},
{"p":"rough","t":1973,"CORINE":1110,"LCM":480,"CS":128,"m":140,"l":130,"h":150},
{"p":"rough","t":1974,"CORINE":1110,"LCM":480,"CS":144,"m":150,"l":140,"h":160},
{"p":"rough","t":1975,"CORINE":1110,"LCM":480,"CS":160,"m":155,"l":145,"h":165},
{"p":"rough","t":1976,"CORINE":1110,"LCM":480,"CS":176,"m":165,"l":155,"h":175},
{"p":"rough","t":1977,"CORINE":1110,"LCM":480,"CS":192,"m":180,"l":170,"h":190},
{"p":"rough","t":1978,"CORINE":1110,"LCM":480,"CS":208,"m":190,"l":180,"h":200},
{"p":"rough","t":1979,"CORINE":1110,"LCM":480,"CS":224,"m":208,"l":198,"h":218},
{"p":"rough","t":1980,"CORINE":1110,"LCM":480,"CS":238,"m":200,"l":190,"h":210},
{"p":"rough","t":1981,"CORINE":1110,"LCM":480,"CS":228,"m":190,"l":180,"h":200},
{"p":"rough","t":1982,"CORINE":1110,"LCM":480,"CS":218,"m":180,"l":170,"h":190},
{"p":"rough","t":1983,"CORINE":1110,"LCM":480,"CS":209,"m":170,"l":160,"h":180},
{"p":"rough","t":1984,"CORINE":1110,"LCM":480,"CS":199,"m":160,"l":150,"h":170},
{"p":"rough","t":1985,"CORINE":1110,"LCM":480,"CS":190,"m":150,"l":140,"h":160},
{"p":"rough","t":1986,"CORINE":1110,"LCM":480,"CS":180,"m":140,"l":130,"h":150},
{"p":"rough","t":1987,"CORINE":1110,"LCM":480,"CS":170,"m":130,"l":120,"h":140},
{"p":"rough","t":1988,"CORINE":1110,"LCM":480,"CS":160,"m":122,"l":112,"h":132},
{"p":"rough","t":1989,"CORINE":1110,"LCM":480,"CS":151,"m":118,"l":108,"h":128},
{"p":"rough","t":1990,"CORINE":1110,"LCM":480,"CS":141,"m":125,"l":115,"h":135},
{"p":"rough","t":1991,"CORINE":1110,"LCM":480,"CS":142,"m":145,"l":135,"h":155},
{"p":"rough","t":1992,"CORINE":1110,"LCM":480,"CS":143,"m":130,"l":120,"h":140},
{"p":"rough","t":1993,"CORINE":1110,"LCM":480,"CS":143,"m":128,"l":118,"h":138},
{"p":"rough","t":1994,"CORINE":1110,"LCM":480,"CS":144,"m":148,"l":138,"h":158},
{"p":"rough","t":1995,"CORINE":1110,"LCM":430,"CS":144,"m":130,"l":120,"h":140},
{"p":"rough","t":1996,"CORINE":1110,"LCM":380,"CS":145,"m":132,"l":122,"h":142},
{"p":"rough","t":1997,"CORINE":1110,"LCM":330,"CS":145,"m":128,"l":118,"h":138},
{"p":"rough","t":1998,"CORINE":1110,"LCM":320,"CS":146,"m":130,"l":120,"h":140},
{"p":"rough","t":1999,"CORINE":1110,"LCM":345,"CS":146,"m":135,"l":125,"h":145},
{"p":"rough","t":2000,"CORINE":1110,"LCM":375,"CS":147,"m":132,"l":122,"h":142},
{"p":"rough","t":2001,"CORINE":1110,"LCM":395,"CS":147,"m":140,"l":130,"h":150},
{"p":"rough","t":2002,"CORINE":1110,"LCM":400,"CS":148,"m":150,"l":140,"h":160},
{"p":"rough","t":2003,"CORINE":1110,"LCM":405,"CS":148,"m":148,"l":138,"h":158},
{"p":"rough","t":2004,"CORINE":1110,"LCM":410,"CS":148,"m":140,"l":130,"h":150},
{"p":"rough","t":2005,"CORINE":1110,"LCM":405,"CS":149,"m":135,"l":125,"h":145},
{"p":"rough","t":2006,"CORINE":1110,"LCM":400,"CS":149,"m":130,"l":120,"h":140},
{"p":"rough","t":2007,"CORINE":965,"LCM":385,"CS":149,"m":138,"l":128,"h":148},
{"p":"rough","t":2008,"CORINE":814,"LCM":365,"CS":150,"m":135,"l":125,"h":145},
{"p":"rough","t":2009,"CORINE":668,"LCM":350,"CS":150,"m":140,"l":130,"h":150},
{"p":"rough","t":2010,"CORINE":517,"LCM":335,"CS":150,"m":132,"l":122,"h":142},
{"p":"rough","t":2011,"CORINE":369,"LCM":320,"CS":151,"m":148,"l":138,"h":158},
{"p":"rough","t":2012,"CORINE":228,"LCM":295,"CS":151,"m":130,"l":120,"h":140},
{"p":"rough","t":2013,"CORINE":210,"LCM":280,"CS":151,"m":135,"l":125,"h":145},
{"p":"rough","t":2014,"CORINE":195,"LCM":255,"CS":152,"m":138,"l":128,"h":148},
{"p":"rough","t":2015,"CORINE":185,"LCM":235,"CS":152,"m":132,"l":122,"h":142},
{"p":"rough","t":2016,"CORINE":175,"LCM":470,"CS":152,"m":140,"l":130,"h":150},
{"p":"rough","t":2017,"CORINE":165,"LCM":690,"CS":153,"m":145,"l":135,"h":155},
{"p":"rough","t":2018,"CORINE":160,"LCM":1600,"CS":153,"m":135,"l":125,"h":145},
{"p":"rough","t":2019,"CORINE":155,"LCM":930,"CS":153,"m":148,"l":138,"h":158},
{"p":"urban","t":1950,"CORINE":77,"LCM":69,"MODIS":1},
{"p":"urban","t":1951,"CORINE":77,"LCM":69,"MODIS":1,"m":15,"l":0,"h":30},
{"p":"urban","t":1952,"CORINE":77,"LCM":69,"MODIS":1,"m":35,"l":20,"h":50},
{"p":"urban","t":1953,"CORINE":77,"LCM":69,"MODIS":1,"m":28,"l":13,"h":43},
{"p":"urban","t":1954,"CORINE":77,"LCM":69,"MODIS":1,"m":22,"l":7,"h":37},
{"p":"urban","t":1955,"CORINE":77,"LCM":69,"MODIS":1,"m":35,"l":20,"h":50},
{"p":"urban","t":1956,"CORINE":77,"LCM":69,"MODIS":1,"m":57,"l":42,"h":72},
{"p":"urban","t":1957,"CORINE":77,"LCM":69,"MODIS":1,"m":22,"l":7,"h":37},
{"p":"urban","t":1958,"CORINE":77,"LCM":69,"MODIS":1,"m":30,"l":15,"h":45},
{"p":"urban","t":1959,"CORINE":77,"LCM":69,"MODIS":1,"m":37,"l":22,"h":52},
{"p":"urban","t":1960,"CORINE":77,"LCM":69,"MODIS":1,"m":30,"l":15,"h":45},
{"p":"urban","t":1961,"CORINE":77,"LCM":69,"MODIS":1,"m":37,"l":22,"h":52},
{"p":"urban","t":1962,"CORINE":77,"LCM":69,"MODIS":1,"m":18,"l":3,"h":33},
{"p":"urban","t":1963,"CORINE":77,"LCM":69,"MODIS":1,"m":37,"l":22,"h":52},
{"p":"urban","t":1964,"CORINE":77,"LCM":69,"MODIS":1,"m":30,"l":15,"h":45},
{"p":"urban","t":1965,"CORINE":77,"LCM":69,"MODIS":1,"m":33,"l":18,"h":48},
{"p":"urban","t":1966,"CORINE":77,"LCM":69,"MODIS":1,"m":22,"l":7,"h":37},
{"p":"urban","t":1967,"CORINE":77,"LCM":69,"MODIS":1,"m":41,"l":26,"h":56},
{"p":"urban","t":1968,"CORINE":77,"LCM":69,"MODIS":1,"m":30,"l":15,"h":45},
{"p":"urban","t":1969,"CORINE":77,"LCM":69,"MODIS":1,"m":22,"l":7,"h":37},
{"p":"urban","t":1970,"CORINE":77,"LCM":69,"MODIS":1,"m":37,"l":22,"h":52},
{"p":"urban","t":1971,"CORINE":77,"LCM":69,"MODIS":1,"m":18,"l":3,"h":33},
{"p":"urban","t":1972,"CORINE":77,"LCM":69,"MODIS":1,"m":25,"l":10,"h":40},
{"p":"urban","t":1973,"CORINE":77,"LCM":69,"MODIS":1,"m":18,"l":3,"h":33},
{"p":"urban","t":1974,"CORINE":77,"LCM":69,"MODIS":1,"m":30,"l":15,"h":45},
{"p":"urban","t":1975,"CORINE":77,"LCM":69,"MODIS":1,"m":25,"l":10,"h":40},
{"p":"urban","t":1976,"CORINE":77,"LCM":69,"MODIS":1,"m":28,"l":16,"h":40},
{"p":"urban","t":1977,"CORINE":77,"LCM":69,"MODIS":1,"m":24,"l":12,"h":36},
{"p":"urban","t":1978,"CORINE":77,"LCM":69,"MODIS":1,"m":30,"l":18,"h":42},
{"p":"urban","t":1979,"CORINE":77,"LCM":69,"MODIS":1,"m":26,"l":14,"h":38},
{"p":"urban","t":1980,"CORINE":77,"LCM":69,"MODIS":1,"m":22,"l":10,"h":34},
{"p":"urban","t":1981,"CORINE":77,"LCM":69,"MODIS":1,"m":27,"l":15,"h":39},
{"p":"urban","t":1982,"CORINE":77,"LCM":69,"MODIS":1,"m":21,"l":9,"h":33},
{"p":"urban","t":1983,"CORINE":77,"LCM":69,"MODIS":1,"m":22,"l":10,"h":34},
{"p":"urban","t":1984,"CORINE":77,"LCM":69,"MODIS":1,"m":21,"l":9,"h":33},
{"p":"urban","t":1985,"CORINE":77,"LCM":69,"MODIS":1,"m":21,"l":9,"h":33},
{"p":"urban","t":1986,"CORINE":77,"LCM":69,"MODIS":1,"m":20,"l":13,"h":27},
{"p":"urban","t":1987,"CORINE":77,"LCM":69,"MODIS":1,"m":18,"l":11,"h":25},
{"p":"urban","t":1988,"CORINE":77,"LCM":69,"MODIS":1,"m":17,"l":10,"h":24},
{"p":"urban","t":1989,"CORINE":77,"LCM":69,"MODIS":1,"m":16,"l":9,"h":23},
{"p":"urban","t":1990,"CORINE":77,"LCM":69,"MODIS":1,"m":14,"l":7,"h":21},
{"p":"urban","t":1991,"CORINE":77,"LCM":69,"MODIS":1,"m":14,"l":7,"h":21},
{"p":"urban","t":1992,"CORINE":77,"LCM":69,"MODIS":1,"m":13,"l":6,"h":20},
{"p":"urban","t":1993,"CORINE":77,"LCM":69,"MODIS":1,"m":11,"l":4,"h":18},
{"p":"urban","t":1994,"CORINE":77,"LCM":69,"MODIS":1,"m":12,"l":5,"h":19},
{"p":"urban","t":1995,"CORINE":77,"LCM":58,"MODIS":1,"m":10,"l":3,"h":17},
{"p":"urban","t":1996,"CORINE":77,"LCM":48,"MODIS":1,"m":9,"l":4,"h":14},
{"p":"urban","t":1997,"CORINE":77,"LCM":40,"MODIS":1,"m":10,"l":5,"h":15},
{"p":"urban","t":1998,"CORINE":77,"LCM":34,"MODIS":1,"m":8,"l":3,"h":13},
{"p":"urban","t":1999,"CORINE":77,"LCM":31,"MODIS":1,"m":9,"l":4,"h":14},
{"p":"urban","t":2000,"CORINE":77,"LCM":31,"MODIS":1,"m":8,"l":3,"h":13},
{"p":"urban","t":2001,"CORINE":77,"LCM":32,"MODIS":1,"m":9,"l":4,"h":14},
{"p":"urban","t":2002,"CORINE":77,"LCM":34,"MODIS":1,"m":10,"l":5,"h":15},
{"p":"urban","t":2003,"CORINE":77,"LCM":37,"MODIS":1,"m":9,"l":4,"h":14},
{"p":"urban","t":2004,"CORINE":77,"LCM":40,"MODIS":1,"m":10,"l":5,"h":15},
{"p":"urban","t":2005,"CORINE":77,"LCM":46,"MODIS":1,"m":9,"l":4,"h":14},
{"p":"urban","t":2006,"CORINE":77,"LCM":49,"MODIS":1,"m":10,"l":5,"h":15},
{"p":"urban","t":2007,"CORINE":72,"LCM":46,"MODIS":1,"m":11,"l":6,"h":16},
{"p":"urban","t":2008,"CORINE":66,"LCM":40,"MODIS":1,"m":10,"l":5,"h":15},
{"p":"urban","t":2009,"CORINE":60,"LCM":37,"MODIS":1,"m":10,"l":5,"h":15},
{"p":"urban","t":2010,"CORINE":54,"LCM":40,"MODIS":1,"m":11,"l":6,"h":16},
{"p":"urban","t":2011,"CORINE":49,"LCM":45,"MODIS":1,"m":10,"l":5,"h":15},
{"p":"urban","t":2012,"CORINE":44,"LCM":50,"MODIS":1,"m":11,"l":6,"h":16},
{"p":"urban","t":2013,"CORINE":40,"LCM":58,"MODIS":1,"m":12,"l":7,"h":17},
{"p":"urban","t":2014,"CORINE":36,"LCM":66,"MODIS":1,"m":11,"l":6,"h":16},
{"p":"urban","t":2015,"CORINE":33,"LCM":78,"MODIS":1,"m":12,"l":7,"h":17},
{"p":"urban","t":2016,"CORINE":30,"LCM":88,"MODIS":1,"m":12,"l":7,"h":17},
{"p":"urban","t":2017,"CORINE":28,"LCM":105,"MODIS":1,"m":13,"l":8,"h":18},
{"p":"urban","t":2018,"CORINE":27,"LCM":122,"MODIS":1,"m":14,"l":9,"h":19},
{"p":"urban","t":2019,"CORINE":26,"LCM":135,"MODIS":1,"m":15,"l":10,"h":20},
{"p":"other","t":1950,"CORINE":207,"LCM":42},
{"p":"other","t":1951,"CORINE":207,"LCM":42,"m":8,"l":2,"h":14},
{"p":"other","t":1952,"CORINE":207,"LCM":42,"m":12,"l":6,"h":18},
{"p":"other","t":1953,"CORINE":207,"LCM":42,"m":6,"l":0,"h":12},
{"p":"other","t":1954,"CORINE":207,"LCM":42,"m":10,"l":4,"h":16},
{"p":"other","t":1955,"CORINE":207,"LCM":42,"m":7,"l":1,"h":13},
{"p":"other","t":1956,"CORINE":207,"LCM":42,"m":11,"l":5,"h":17},
{"p":"other","t":1957,"CORINE":207,"LCM":42,"m":8,"l":2,"h":14},
{"p":"other","t":1958,"CORINE":207,"LCM":42,"m":6,"l":0,"h":12},
{"p":"other","t":1959,"CORINE":207,"LCM":42,"m":10,"l":4,"h":16},
{"p":"other","t":1960,"CORINE":207,"LCM":42,"m":8,"l":2,"h":14},
{"p":"other","t":1961,"CORINE":207,"LCM":42,"m":12,"l":6,"h":18},
{"p":"other","t":1962,"CORINE":207,"LCM":42,"m":7,"l":1,"h":13},
{"p":"other","t":1963,"CORINE":207,"LCM":42,"m":9,"l":3,"h":15},
{"p":"other","t":1964,"CORINE":207,"LCM":42,"m":11,"l":5,"h":17},
{"p":"other","t":1965,"CORINE":207,"LCM":42,"m":8,"l":2,"h":14},
{"p":"other","t":1966,"CORINE":207,"LCM":42,"m":6,"l":0,"h":12},
{"p":"other","t":1967,"CORINE":207,"LCM":42,"m":10,"l":4,"h":16},
{"p":"other","t":1968,"CORINE":207,"LCM":42,"m":9,"l":3,"h":15},
{"p":"other","t":1969,"CORINE":207,"LCM":42,"m":12,"l":6,"h":18},
{"p":"other","t":1970,"CORINE":207,"LCM":42,"m":8,"l":2,"h":14},
{"p":"other","t":1971,"CORINE":207,"LCM":42,"m":10,"l":4,"h":16},
{"p":"other","t":1972,"CORINE":207,"LCM":42,"m":7,"l":1,"h":13},
{"p":"other","t":1973,"CORINE":207,"LCM":42,"m":11,"l":5,"h":17},
{"p":"other","t":1974,"CORINE":207,"LCM":42,"m":9,"l":3,"h":15},
{"p":"other","t":1975,"CORINE":207,"LCM":42,"m":12,"l":6,"h":18},
{"p":"other","t":1976,"CORINE":207,"LCM":42,"m":8,"l":2,"h":14},
{"p":"other","t":1977,"CORINE":207,"LCM":42,"m":11,"l":5,"h":17},
{"p":"other","t":1978,"CORINE":207,"LCM":42,"m":9,"l":3,"h":15},
{"p":"other","t":1979,"CORINE":207,"LCM":42,"m":12,"l":6,"h":18},
{"p":"other","t":1980,"CORINE":207,"LCM":42,"m":10,"l":4,"h":16},
{"p":"other","t":1981,"CORINE":207,"LCM":42,"m":13,"l":7,"h":19},
{"p":"other","t":1982,"CORINE":207,"LCM":42,"m":9,"l":3,"h":15},
{"p":"other","t":1983,"CORINE":207,"LCM":42,"m":12,"l":6,"h":18},
{"p":"other","t":1984,"CORINE":207,"LCM":42,"m":10,"l":4,"h":16},
{"p":"other","t":1985,"CORINE":207,"LCM":42,"m":14,"l":8,"h":20},
{"p":"other","t":1986,"CORINE":207,"LCM":42,"m":11,"l":5,"h":17},
{"p":"other","t":1987,"CORINE":207,"LCM":42,"m":9,"l":3,"h":15},
{"p":"other","t":1988,"CORINE":207,"LCM":42,"m":13,"l":7,"h":19},
{"p":"other","t":1989,"CORINE":207,"LCM":42,"m":10,"l":4,"h":16},
{"p":"other","t":1990,"CORINE":207,"LCM":42,"m":12,"l":6,"h":18},
{"p":"other","t":1991,"CORINE":207,"LCM":42,"m":9,"l":3,"h":15},
{"p":"other","t":1992,"CORINE":207,"LCM":42,"m":13,"l":7,"h":19},
{"p":"other","t":1993,"CORINE":207,"LCM":42,"m":10,"l":4,"h":16},
{"p":"other","t":1994,"CORINE":207,"LCM":40,"m":12,"l":6,"h":18},
{"p":"other","t":1995,"CORINE":207,"LCM":35,"m":9,"l":3,"h":15},
{"p":"other","t":1996,"CORINE":207,"LCM":30,"m":11,"l":5,"h":17},
{"p":"other","t":1997,"CORINE":207,"LCM":28,"m":10,"l":4,"h":16},
{"p":"other","t":1998,"CORINE":207,"LCM":26,"m":12,"l":6,"h":18},
{"p":"other","t":1999,"CORINE":207,"LCM":25,"m":9,"l":3,"h":15},
{"p":"other","t":2000,"CORINE":207,"LCM":25,"m":11,"l":5,"h":17},
{"p":"other","t":2001,"CORINE":207,"LCM":25,"m":10,"l":4,"h":16},
{"p":"other","t":2002,"CORINE":207,"LCM":25,"m":8,"l":2,"h":14},
{"p":"other","t":2003,"CORINE":207,"LCM":25,"m":22,"l":16,"h":28},
{"p":"other","t":2004,"CORINE":207,"LCM":25,"m":16,"l":10,"h":22},
{"p":"other","t":2005,"CORINE":207,"LCM":25,"m":14,"l":8,"h":20},
{"p":"other","t":2006,"CORINE":207,"LCM":25,"m":16,"l":10,"h":22},
{"p":"other","t":2007,"CORINE":175,"LCM":25,"m":13,"l":7,"h":19},
{"p":"other","t":2008,"CORINE":144,"LCM":25,"m":15,"l":9,"h":21},
{"p":"other","t":2009,"CORINE":111,"LCM":25,"m":12,"l":6,"h":18},
{"p":"other","t":2010,"CORINE":80,"LCM":27,"m":15,"l":9,"h":21},
{"p":"other","t":2011,"CORINE":48,"LCM":34,"m":13,"l":7,"h":19},
{"p":"other","t":2012,"CORINE":28,"LCM":46,"m":14,"l":8,"h":20},
{"p":"other","t":2013,"CORINE":22,"LCM":62,"m":10,"l":4,"h":16},
{"p":"other","t":2014,"CORINE":18,"LCM":82,"m":6,"l":0,"h":12},
{"p":"other","t":2015,"CORINE":14,"LCM":102,"m":18,"l":12,"h":24},
{"p":"other","t":2016,"CORINE":10,"LCM":190,"m":15,"l":9,"h":21},
{"p":"other","t":2017,"CORINE":7,"LCM":282,"m":22,"l":16,"h":28},
{"p":"other","t":2018,"CORINE":4,"LCM":235,"m":14,"l":8,"h":20},
{"p":"other","t":2019,"CORINE":2,"LCM":365,"m":12,"l":6,"h":18}
]
},
"bounds":"flush",
"columns":3,
"spacing":{"row":62,"column":80},
"concat":[
{"width":238,"height":337,"title":{"text":"woods"},"layer":[
{"data":{"name":"b"},"transform":[{"filter":"datum.p==='woods'"}],"mark":{"type":"area","fillOpacity":0.3},"encoding":{
"x":{"field":"t","type":"quantitative","scale":{"domain":[1946.55,2022.45],"nice":false,"zero":false},"axis":{"values":[1960,1980,2000,2020],"labels":false,"title":null,"gridWidth":{"condition":{"test":"datum.value % 40 === 0","value":1.3},"value":0.7}}},
"y":{"field":"l","type":"quantitative","scale":{"domain":[-354,672],"nice":false,"zero":false},"axis":{"orient":"left","values":[-200,0,200,400,600],"format":"d","title":null,"gridWidth":1.3,"labels":true,"labelOpacity":1,"labelLimit":300,"labelAlign":"right","labelBaseline":"middle","labelFontSize":22.5,"labelColor":"#4D4D4D","labelPadding":13,"offset":0}},
"y2":{"field":"h"},"fill":{"field":"s","type":"nominal"}}},
{"data":{"name":"ln"},"transform":[{"filter":"datum.p==='woods'"}],"mark":{"type":"line","strokeWidth":1.1},"encoding":{"x":{"field":"t","type":"quantitative"},"y":{"field":"v","type":"quantitative"},"color":{"field":"s","type":"nominal"}}},
{"data":{"name":"w"},"transform":[{"filter":"datum.p==='woods'"},{"fold":["LCC","CORINE","LCM","CS","MODIS"],"as":["s","v"]},{"filter":"isValid(datum.v)"}],"mark":{"type":"point","filled":true,"size":55,"opacity":1},"encoding":{"x":{"field":"t","type":"quantitative"},"y":{"field":"v","type":"quantitative"},"color":{"field":"s","type":"nominal"}}},
{"data":{"name":"w"},"transform":[{"filter":"datum.p==='woods' && isValid(datum.m)"}],"mark":{"type":"area","fillOpacity":0.5},"encoding":{"x":{"field":"t","type":"quantitative"},"y":{"field":"l","type":"quantitative"},"y2":{"field":"h"},"fill":{"datum":"95% CI","type":"nominal"}}},
{"data":{"name":"w"},"transform":[{"filter":"datum.p==='woods' && isValid(datum.m)"}],"mark":{"type":"line","strokeWidth":1.8},"encoding":{"x":{"field":"t","type":"quantitative"},"y":{"field":"m","type":"quantitative"},"color":{"datum":"Maximum a posterior","type":"nominal"}}}
]},
{"width":238,"height":337,"title":{"text":"crops"},"layer":[
{"data":{"name":"b"},"transform":[{"filter":"datum.p==='crops'"}],"mark":{"type":"area","fillOpacity":0.3},"encoding":{
"x":{"field":"t","type":"quantitative","scale":{"domain":[1946.55,2022.45],"nice":false,"zero":false},"axis":{"values":[1960,1980,2000,2020],"labels":false,"title":null,"gridWidth":{"condition":{"test":"datum.value % 40 === 0","value":1.3},"value":0.7}}},
"y":{"field":"l","type":"quantitative","scale":{"domain":[-582,1227],"nice":false,"zero":false},"axis":{"values":[-500,-250,0,250,500,750,1000],"labelExpr":"datum.value % 500 === 0 ? '' + datum.value : ''","gridWidth":{"condition":{"test":"datum.value % 500 === 0","value":1.3},"value":0.7},"title":null}},
"y2":{"field":"h"},"fill":{"field":"s","type":"nominal"}}},
{"data":{"name":"ln"},"transform":[{"filter":"datum.p==='crops'"}],"mark":{"type":"line","strokeWidth":1.1},"encoding":{"x":{"field":"t","type":"quantitative"},"y":{"field":"v","type":"quantitative"},"color":{"field":"s","type":"nominal"}}},
{"data":{"name":"w"},"transform":[{"filter":"datum.p==='crops'"},{"fold":["LCC","CORINE","LCM","CS","MODIS"],"as":["s","v"]},{"filter":"isValid(datum.v)"}],"mark":{"type":"point","filled":true,"size":55,"opacity":1},"encoding":{"x":{"field":"t","type":"quantitative"},"y":{"field":"v","type":"quantitative"},"color":{"field":"s","type":"nominal"}}},
{"data":{"name":"w"},"transform":[{"filter":"datum.p==='crops' && isValid(datum.m)"}],"mark":{"type":"area","fillOpacity":0.5},"encoding":{"x":{"field":"t","type":"quantitative"},"y":{"field":"l","type":"quantitative"},"y2":{"field":"h"},"fill":{"datum":"95% CI","type":"nominal"}}},
{"data":{"name":"w"},"transform":[{"filter":"datum.p==='crops' && isValid(datum.m)"}],"mark":{"type":"line","strokeWidth":1.8},"encoding":{"x":{"field":"t","type":"quantitative"},"y":{"field":"m","type":"quantitative"},"color":{"datum":"Maximum a posterior","type":"nominal"}}}
]},
{"width":238,"height":337,"title":{"text":"grass"},"layer":[
{"data":{"name":"b"},"transform":[{"filter":"datum.p==='grass'"}],"mark":{"type":"area","fillOpacity":0.3},"encoding":{
"x":{"field":"t","type":"quantitative","scale":{"domain":[1946.55,2022.45],"nice":false,"zero":false},"axis":{"values":[1960,1980,2000,2020],"labels":false,"title":null,"gridWidth":{"condition":{"test":"datum.value % 40 === 0","value":1.3},"value":0.7}}},
"y":{"field":"l","type":"quantitative","scale":{"domain":[-574,1610],"nice":false,"zero":false},"axis":{"values":[-500,-250,0,250,500,750,1000,1250,1500],"labelExpr":"datum.value % 500 === 0 ? '' + datum.value : ''","gridWidth":{"condition":{"test":"datum.value % 500 === 0","value":1.3},"value":0.7},"title":null}},
"y2":{"field":"h"},"fill":{"field":"s","type":"nominal"}}},
{"data":{"name":"ln"},"transform":[{"filter":"datum.p==='grass'"}],"mark":{"type":"line","strokeWidth":1.1},"encoding":{"x":{"field":"t","type":"quantitative"},"y":{"field":"v","type":"quantitative"},"color":{"field":"s","type":"nominal"}}},
{"data":{"name":"w"},"transform":[{"filter":"datum.p==='grass'"},{"fold":["LCC","CORINE","LCM","CS","MODIS"],"as":["s","v"]},{"filter":"isValid(datum.v)"}],"mark":{"type":"point","filled":true,"size":55,"opacity":1},"encoding":{"x":{"field":"t","type":"quantitative"},"y":{"field":"v","type":"quantitative"},"color":{"field":"s","type":"nominal"}}},
{"data":{"name":"w"},"transform":[{"filter":"datum.p==='grass' && isValid(datum.m)"}],"mark":{"type":"area","fillOpacity":0.5},"encoding":{"x":{"field":"t","type":"quantitative"},"y":{"field":"l","type":"quantitative"},"y2":{"field":"h"},"fill":{"datum":"95% CI","type":"nominal"}}},
{"data":{"name":"w"},"transform":[{"filter":"datum.p==='grass' && isValid(datum.m)"}],"mark":{"type":"line","strokeWidth":1.8},"encoding":{"x":{"field":"t","type":"quantitative"},"y":{"field":"m","type":"quantitative"},"color":{"datum":"Maximum a posterior","type":"nominal"}}}
]},
{"width":238,"height":337,"title":{"text":"rough","dy":88},"layer":[
{"data":{"name":"b"},"transform":[{"filter":"datum.p==='rough'"}],"mark":{"type":"area","fillOpacity":0.3},"encoding":{
"x":{"field":"t","type":"quantitative","scale":{"domain":[1946.55,2022.45],"nice":false,"zero":false},"axis":{"values":[1960,1980,2000,2020],"labelExpr":"datum.value % 40 === 0 ? '' + datum.value : ''","labelAngle":270,"title":null,"gridWidth":{"condition":{"test":"datum.value % 40 === 0","value":1.3},"value":0.7}}},
"y":{"field":"l","type":"quantitative","scale":{"domain":[-349,1693],"nice":false,"zero":false},"axis":{"values":[-250,0,250,500,750,1000,1250,1500],"labelExpr":"datum.value % 500 === 0 ? '' + datum.value : ''","gridWidth":{"condition":{"test":"datum.value % 500 === 0","value":1.3},"value":0.7},"title":"Area km²","titleX":-83,"titleY":-31,"titleBaseline":"alphabetic","titleAngle":270}},
"y2":{"field":"h"},"fill":{"field":"s","type":"nominal"}}},
{"data":{"name":"ln"},"transform":[{"filter":"datum.p==='rough'"}],"mark":{"type":"line","strokeWidth":1.1},"encoding":{"x":{"field":"t","type":"quantitative"},"y":{"field":"v","type":"quantitative"},"color":{"field":"s","type":"nominal"}}},
{"data":{"name":"w"},"transform":[{"filter":"datum.p==='rough'"},{"fold":["LCC","CORINE","LCM","CS","MODIS"],"as":["s","v"]},{"filter":"isValid(datum.v)"}],"mark":{"type":"point","filled":true,"size":55,"opacity":1},"encoding":{"x":{"field":"t","type":"quantitative"},"y":{"field":"v","type":"quantitative"},"color":{"field":"s","type":"nominal"}}},
{"data":{"name":"w"},"transform":[{"filter":"datum.p==='rough' && isValid(datum.m)"}],"mark":{"type":"area","fillOpacity":0.5},"encoding":{"x":{"field":"t","type":"quantitative"},"y":{"field":"l","type":"quantitative"},"y2":{"field":"h"},"fill":{"datum":"95% CI","type":"nominal"}}},
{"data":{"name":"w"},"transform":[{"filter":"datum.p==='rough' && isValid(datum.m)"}],"mark":{"type":"line","strokeWidth":1.8},"encoding":{"x":{"field":"t","type":"quantitative"},"y":{"field":"m","type":"quantitative"},"color":{"datum":"Maximum a posterior","type":"nominal"}}}
]},
{"width":238,"height":337,"title":{"text":"urban","dy":9},"layer":[
{"data":{"name":"b"},"transform":[{"filter":"datum.p==='urban'"}],"mark":{"type":"area","fillOpacity":0.3},"encoding":{
"x":{"field":"t","type":"quantitative","scale":{"domain":[1946.55,2022.45],"nice":false,"zero":false},"axis":{"values":[1960,1980,2000,2020],"labelExpr":"datum.value % 40 === 0 ? '' + datum.value : ''","labelAngle":270,"title":"time","titleY":97,"titleBaseline":"alphabetic","gridWidth":{"condition":{"test":"datum.value % 40 === 0","value":1.3},"value":0.7}}},
"y":{"field":"l","type":"quantitative","scale":{"domain":[-391,406],"nice":false,"zero":false},"axis":{"values":[-300,-200,-100,0,100,200,300,400],"labelExpr":"datum.value % 200 === 0 ? '' + datum.value : ''","gridWidth":{"condition":{"test":"datum.value % 200 === 0","value":1.3},"value":0.7},"title":null}},
"y2":{"field":"h"},"fill":{"field":"s","type":"nominal"}}},
{"data":{"name":"w"},"transform":[{"filter":"datum.p==='urban'"},{"fold":["LCC","CORINE","LCM","CS","MODIS"],"as":["s","v"]},{"filter":"isValid(datum.v)"}],"mark":{"type":"point","filled":true,"size":55,"opacity":1},"encoding":{"x":{"field":"t","type":"quantitative"},"y":{"field":"v","type":"quantitative"},"color":{"field":"s","type":"nominal"}}},
{"data":{"name":"w"},"transform":[{"filter":"datum.p==='urban' && isValid(datum.m)"}],"mark":{"type":"area","fillOpacity":0.5},"encoding":{"x":{"field":"t","type":"quantitative"},"y":{"field":"l","type":"quantitative"},"y2":{"field":"h"},"fill":{"datum":"95% CI","type":"nominal"}}},
{"data":{"name":"w"},"transform":[{"filter":"datum.p==='urban' && isValid(datum.m)"}],"mark":{"type":"line","strokeWidth":1.8},"encoding":{"x":{"field":"t","type":"quantitative"},"y":{"field":"m","type":"quantitative"},"color":{"datum":"Maximum a posterior","type":"nominal"}}}
]},
{"width":238,"height":337,"title":{"text":"other","dy":2},"layer":[
{"data":{"name":"b"},"transform":[{"filter":"datum.p==='other'"}],"mark":{"type":"area","fillOpacity":0.3},"encoding":{
"x":{"field":"t","type":"quantitative","scale":{"domain":[1946.55,2022.45],"nice":false,"zero":false},"axis":{"values":[1960,1980,2000,2020],"labelExpr":"datum.value % 40 === 0 ? '' + datum.value : ''","labelAngle":270,"title":null,"gridWidth":{"condition":{"test":"datum.value % 40 === 0","value":1.3},"value":0.7}}},
"y":{"field":"l","type":"quantitative","scale":{"domain":[-379,420],"nice":false,"zero":false},"axis":{"values":[-300,-200,-100,0,100,200,300,400],"labelExpr":"datum.value % 200 === 0 ? '' + datum.value : ''","gridWidth":{"condition":{"test":"datum.value % 200 === 0","value":1.3},"value":0.7},"title":null}},
"y2":{"field":"h"},
"fill":{"field":"s","type":"nominal","scale":{"domain":["95% CI","AgCensus","CORINE","CROME","CS","FC","IACS","LCC","LCM","MODIS"],"range":["#000000","#F8766D","#D89000","#A3A500","#39B600","#00BF7D","#00BFC4","#00B0F6","#9590FF","#E76BF3"]},"legend":{"orient":"none","legendX":919,"legendY":441,"title":null,"padding":0,"symbolType":"square","symbolSize":1849,"symbolStrokeWidth":0,"symbolOpacity":0.58,"labelFontSize":22.5,"labelFont":"Liberation Sans","labelColor":"black","labelOffset":16,"rowPadding":3,"labelLimit":400,"values":["95% CI","AgCensus","CORINE","CROME","CS","FC","IACS","LCC","LCM"],"encode":{"symbols":{"update":{"opacity":{"value":0.58},"fillOpacity":{"value":1},"fill":{"scale":"fill","field":"value"},"stroke":{"value":"transparent"}}}}}}}},
{"data":{"name":"ln"},"transform":[{"filter":"datum.p==='other'"}],"mark":{"type":"line","strokeWidth":1.1},"encoding":{"x":{"field":"t","type":"quantitative"},"y":{"field":"v","type":"quantitative"},
"color":{"field":"s","type":"nominal","scale":{"domain":["Maximum a posterior","AgCensus","CORINE","CROME","CS","FC","IACS","LCC","LCM","MODIS"],"range":["#000000","#F8766D","#D89000","#A3A500","#39B600","#00BF7D","#00BFC4","#00B0F6","#9590FF","#E76BF3"]},"legend":{"orient":"none","legendX":927,"legendY":-107,"title":null,"padding":0,"symbolType":"M-1.8,0H1.8M-0.3,0a0.3,0.3 0 1,0 0.6,0a0.3,0.3 0 1,0 -0.6,0","symbolSize":400,"symbolStrokeWidth":2,"labelFontSize":22.5,"labelFont":"Liberation Sans","labelColor":"black","labelOffset":28,"rowPadding":23,"labelLimit":400,"encode":{"symbols":{"update":{"fill":{"scale":"color","field":"value"},"stroke":{"scale":"color","field":"value"},"strokeWidth":{"value":2},"opacity":{"value":1}}}}}}}},
{"data":{"name":"w"},"transform":[{"filter":"datum.p==='other'"},{"fold":["LCC","CORINE","LCM","CS","MODIS"],"as":["s","v"]},{"filter":"isValid(datum.v)"}],"mark":{"type":"point","filled":true,"size":55,"opacity":1},"encoding":{"x":{"field":"t","type":"quantitative"},"y":{"field":"v","type":"quantitative"},"color":{"field":"s","type":"nominal"}}},
{"data":{"name":"w"},"transform":[{"filter":"datum.p==='other' && isValid(datum.m)"}],"mark":{"type":"area","fillOpacity":0.5},"encoding":{"x":{"field":"t","type":"quantitative"},"y":{"field":"l","type":"quantitative"},"y2":{"field":"h"},"fill":{"datum":"95% CI","type":"nominal"}}},
{"data":{"name":"w"},"transform":[{"filter":"datum.p==='other' && isValid(datum.m)"}],"mark":{"type":"line","strokeWidth":1.8},"encoding":{"x":{"field":"t","type":"quantitative"},"y":{"field":"m","type":"quantitative"},"color":{"datum":"Maximum a posterior","type":"nominal"}}}
]}
]
}
